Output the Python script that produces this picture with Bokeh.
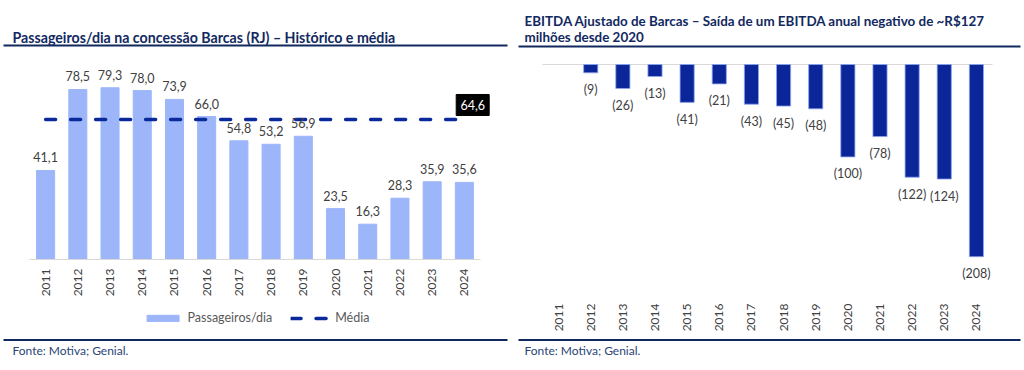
import math
from bokeh.plotting import figure
from bokeh.models import Range1d, Legend, LegendItem
from bokeh.layouts import row
from bokeh.core.properties import value
from bokeh.embed import file_html
from bokeh.resources import INLINE

# ---------------- data ----------------
years = [2011, 2012, 2013, 2014, 2015, 2016, 2017, 2018, 2019, 2020, 2021, 2022, 2023, 2024]
year_labels = ["2011", "2012", "2013", "2014", "2015", "2016", "2017", "2018", "2019",
               "2020", "2021", "2022", "2023", "2024"]
passengers = [41.1, 78.5, 79.3, 78.0, 73.9, 66.0, 54.8, 53.2, 56.9, 23.5, 16.3, 28.3, 35.9, 35.6]
media = 64.6
ebitda = [float("nan"), -9, -26, -13, -41, -21, -43, -45, -48, -100, -78, -122, -124, -208]

left_title = "Passageiros/dia na concessão Barcas (RJ) – Histórico e média"
right_title_1 = "EBITDA Ajustado de Barcas – Saída de um EBITDA anual negativo de ~R$127"
right_title_2 = "milhões desde 2020"
source_text = "Fonte: Motiva; Genial."

NAVY = "#12295F"
BAR_LIGHT = "#9DB6FA"
BAR_DARK = "#0A2699"
DASH = "#0A2A9C"
TXT = "#404040"
FONT = "Lato"
W, H = 512, 370


def make_fig(x_ref_px, x_ref_val, x_ppu, y_ref_px, y_ref_val, y_ppu):
    """Figure whose frame is the whole canvas; linear scales anchored on pixel references."""
    xr = (x_ref_val - x_ref_px / x_ppu, x_ref_val + (W - x_ref_px) / x_ppu)
    yr = (y_ref_val - (H - y_ref_px) / y_ppu, y_ref_val + y_ref_px / y_ppu)
    p = figure(width=W, height=H, output_backend="svg", toolbar_location=None,
               x_range=Range1d(*xr), y_range=Range1d(*yr),
               x_axis_location=None, y_axis_location=None, min_border=0)
    p.outline_line_color = None
    p.xgrid.visible = False
    p.ygrid.visible = False

    def dx(fx):
        return x_ref_val + (fx - x_ref_px) / x_ppu

    def dy(fy):
        return y_ref_val + (y_ref_px - fy) / y_ppu

    return p, dx, dy


def txt(p, x, y, text, size="12px", color=TXT, align="left", baseline="middle",
        bold=False, angle=0.0):
    return p.text(x=x, y=y, text=text, text_font=value(FONT), text_font_size=value(size),
                  text_color=color, text_align=align, text_baseline=baseline,
                  text_font_style="bold" if bold else "normal", angle=angle)


def decorate(p, dx, dy, x0, x1, title_lines, title_size, tx, rule_y, tick_top, axis_line):
    for text, fy in title_lines:
        txt(p, [dx(tx)], [dy(fy)], [text], size=title_size, color=NAVY, bold=True)
    p.segment(x0=[dx(x0), dx(x0)], x1=[dx(x1), dx(x1)], y0=[dy(rule_y), dy(339.5)],
              y1=[dy(rule_y), dy(339.5)], line_color=NAVY, line_width=2)
    txt(p, [dx(tx)], [dy(350)], [source_text], size="12px", color="#2B4476")
    # category axis: base line + vertical tick labels
    if axis_line:
        p.segment(x0=[years[0] - 0.5], x1=[years[-1] + 0.5], y0=[0], y1=[0],
                  line_color="#D9D9D9", line_width=1)
    txt(p, years, [dy(tick_top)] * len(years), year_labels, size="12px", align="right",
        angle=math.pi / 2)


# ---------------- left chart ----------------
XPPU1 = 451 / 14
p1, dx1, dy1 = make_fig(29, 2010.5, XPPU1, 259, 0.0, 2.166)
bars1 = p1.vbar(x=years, top=passengers, width=0.56, fill_color=BAR_LIGHT, line_color=BAR_LIGHT)
mline = p1.line(x=years, y=[media] * len(years), line_color=DASH, line_width=3.5,
                line_dash="10 15", line_cap="round")
txt(p1, years, [v + 13 / 2.166 for v in passengers],
    [f"{v:.1f}".replace(".", ",") for v in passengers], size="12.5px", align="center")
box_x = years[-1] + 8.3 / XPPU1
box_y = media + 14.6 / 2.166
p1.rect(x=[box_x], y=[box_y], width=33, height=21, width_units="screen", height_units="screen",
        fill_color="black", line_color="black")
txt(p1, [box_x], [box_y], [f"{media:.1f}".replace(".", ",")], size="12.5px", color="white",
    align="center")
decorate(p1, dx1, dy1, 3, 507, [(left_title, 37)], "14.2px", 12, 45, 268, True)
legend = Legend(items=[LegendItem(label="Passageiros/dia", renderers=[bars1]),
                       LegendItem(label="Média", renderers=[mline])],
                orientation="horizontal", location="bottom_center", border_line_color=None,
                background_fill_alpha=0, glyph_width=40, glyph_height=8,
                label_text_font=FONT, label_text_font_size="12.5px", label_text_color="#595959",
                spacing=18, label_standoff=5, margin=45, padding=4)
p1.add_layout(legend)

# ---------------- right chart ----------------
p2, dx2, dy2 = make_fig(30, 2010.5, 450 / 14, 64, 0.0, 0.924)
p2.segment(x0=[years[0] - 0.5], x1=[years[-1] + 0.5], y0=[0], y1=[0],
           line_color="#D9D9D9", line_width=1)
p2.vbar(x=years, top=0, bottom=ebitda, width=0.44, fill_color=BAR_DARK, line_color="#8FA6EE",
        line_width=0.8)
lab2 = ["" if v != v else f"({abs(int(v))})" for v in ebitda]
txt(p2, years, [(0 if v != v else v) - 17 / 0.924 for v in ebitda], lab2, size="12.5px",
    align="center")
decorate(p2, dx2, dy2, 6, 508, [(right_title_1, 20), (right_title_2, 36)], "13.4px", 12, 46,
         303, False)

layout = row(p1, p2, spacing=0)
open("out.html", "w").write(file_html(layout, INLINE))
